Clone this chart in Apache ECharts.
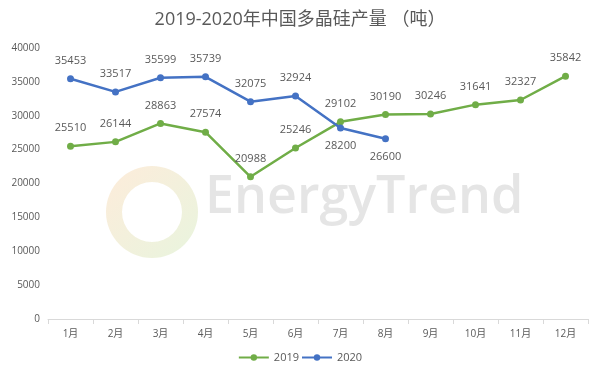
<!DOCTYPE html>
<html><head><meta charset="utf-8">
<script src="https://cdn.jsdelivr.net/npm/echarts@6/dist/echarts.min.js"></script>
<style>html,body{margin:0;padding:0;background:#fff}#c{width:600px;height:374px}</style>
</head><body><div id="c"></div>
<script>
var months = ['1月','2月','3月','4月','5月','6月','7月','8月','9月','10月','11月','12月'];
var y2019 = [25510, 26144, 28863, 27574, 20988, 25246, 29102, 30190, 30246, 31641, 32327, 35842];
var y2020 = [35453, 33517, 35599, 35739, 32075, 32924, 28200, 26600];
var labelBelow2020 = [6, 7];

var chart = echarts.init(document.getElementById('c'));
var font = '"Open Sans", "Noto Sans CJK SC", sans-serif';
chart.setOption({
  animation: false,
  textStyle: {fontFamily: font},
  title: {text: '2019-2020年中国多晶硅产量 （吨）', left: 'center', top: 6,
    textStyle: {fontSize: 18, fontWeight: 'normal', color: '#595959', fontFamily: font}},
  graphic: [
    {type: 'ring', shape: {cx: 152, cy: 212, r: 46, r0: 30}, z: 0,
      style: {fill: {type: 'linear', x: 0, y: 0, x2: 1, y2: 1,
        colorStops: [{offset: 0, color: 'rgba(250,200,150,0.35)'}, {offset: 1, color: 'rgba(190,225,160,0.35)'}]}}},
    {type: 'text', left: 205, top: 172, z: 0,
      style: {text: 'EnergyTrend', fontSize: 52, fontWeight: 600, fontFamily: font, fill: 'rgba(190,190,190,0.4)'}}
  ],
  legend: {bottom: 6, left: 'center', itemGap: 2, itemWidth: 30, itemHeight: 8,
    textStyle: {fontSize: 11, color: '#595959'},
    data: ['2019', '2020']},
  grid: {left: 48, right: 12, top: 48, bottom: 55},
  xAxis: {type: 'category', data: months, boundaryGap: true,
    axisLine: {lineStyle: {color: '#d9d9d9'}},
    axisTick: {show: true, lineStyle: {color: '#d9d9d9'}, length: 5},
    axisLabel: {color: '#595959', fontSize: 10, margin: 10}},
  yAxis: {type: 'value', min: 0, max: 40000, interval: 5000,
    axisLine: {show: false}, axisTick: {show: false},
    splitLine: {show: false},
    axisLabel: {color: '#595959', fontSize: 10, margin: 8, formatter: function (v) { return String(v); }}},
  series: [
    {name: '2019', type: 'line', data: y2019, symbol: 'circle', symbolSize: 7,
      itemStyle: {color: '#70AD47'}, lineStyle: {width: 2.5, color: '#70AD47'}, z: 3,
      label: {show: true, position: 'top', distance: 9, color: '#595959', fontSize: 11}},
    {name: '2020', type: 'line', data: y2020.map(function (v, i) {
        return labelBelow2020.indexOf(i) >= 0 ? {value: v, label: {position: 'bottom'}} : v;
      }), symbol: 'circle', symbolSize: 7,
      itemStyle: {color: '#4472C4'}, lineStyle: {width: 2.5, color: '#4472C4'}, z: 4,
      label: {show: true, position: 'top', distance: 9, color: '#595959', fontSize: 11}}
  ]
});
</script></body></html>
